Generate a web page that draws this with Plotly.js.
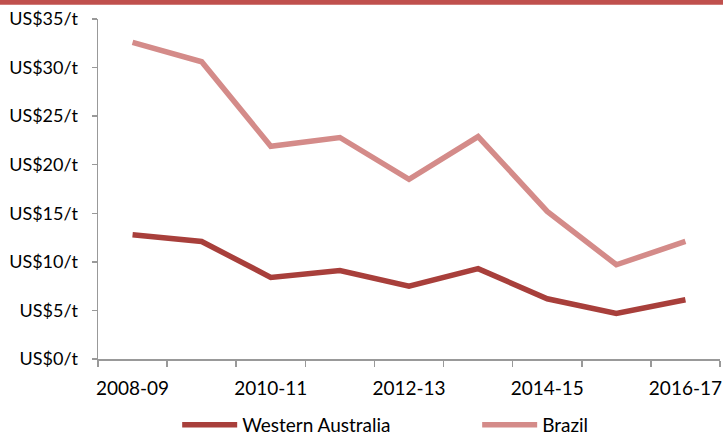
<!DOCTYPE html>
<html>
<head>
<meta charset="utf-8">
<script src="https://cdn.plot.ly/plotly-3.0.1.min.js"></script>
<style>html,body{margin:0;padding:0;background:#fff;}#chart{width:723px;height:437px;}</style>
</head>
<body>
<div id="chart"></div>
<script>
const categories = ["2008-09","2009-10","2010-11","2011-12","2012-13","2013-14","2014-15","2015-16","2016-17"];
const westernAustralia = [12.8, 12.1, 8.4, 9.1, 7.5, 9.3, 6.2, 4.7, 6.1];
const brazil = [32.6, 30.6, 21.9, 22.8, 18.5, 22.9, 15.2, 9.7, 12.1];
const yTickVals = [0, 5, 10, 15, 20, 25, 30, 35];
const yTickText = yTickVals.map(v => "US$" + v + "/t");
const xLabelIdx = [0, 2, 4, 6, 8];

const xs = categories.map((c, i) => i);
const family = "Lato, 'Open Sans', sans-serif";

const traces = [
  {x: xs, y: westernAustralia, name: "Western Australia", type: "scatter", mode: "lines",
   line: {color: "#A83F3B", width: 5.5}, legend: "legend"},
  {x: xs, y: brazil, name: "Brazil", type: "scatter", mode: "lines",
   line: {color: "#D48B89", width: 5.5}, legend: "legend2"}
];

const legendBase = {orientation: "h", xanchor: "left", y: -0.194, yanchor: "middle",
                    font: {family: family, size: 19, color: "#000"}, itemwidth: 55,
                    bgcolor: "rgba(0,0,0,0)"};

const layout = {
  width: 723, height: 437,
  margin: {l: 98, r: 3, t: 19, b: 78, autoexpand: false},
  paper_bgcolor: "#fff", plot_bgcolor: "#fff",
  font: {family: family, size: 18, color: "#000"},
  showlegend: true,
  legend: Object.assign({}, legendBase, {x: 0.1273}),
  legend2: Object.assign({}, legendBase, {x: 0.6096}),
  xaxis: {range: [-0.5, 8.5], showgrid: false, zeroline: false,
          showline: true, linecolor: "#999", linewidth: 1.5,
          tickvals: xLabelIdx, ticktext: xLabelIdx.map(i => categories[i]),
          tickfont: {family: family, size: 19, color: "#000"},
          ticks: "", ticklabelstandoff: 12,
          minor: {ticks: "outside", tick0: -0.5, dtick: 1, ticklen: 6, tickcolor: "#999", tickwidth: 1.5, showgrid: false},
          fixedrange: true},
  yaxis: {range: [0, 35], showgrid: false, zeroline: false,
          showline: true, linecolor: "#999", linewidth: 1.5,
          tickvals: yTickVals, ticktext: yTickText,
          tickfont: {family: family, size: 18, color: "#000"},
          ticks: "outside", ticklen: 5, tickcolor: "#999", tickwidth: 1.5,
          ticklabelstandoff: 10, fixedrange: true},
  shapes: [
    {type: "rect", xref: "paper", yref: "paper", x0: -0.2, x1: 1.05, y0: 1.042, y1: 1.1,
     fillcolor: "#C0504D", line: {width: 0}, layer: "above"}
  ]
};

Plotly.newPlot("chart", traces, layout, {displayModeBar: false, staticPlot: true});
</script>
</body>
</html>
